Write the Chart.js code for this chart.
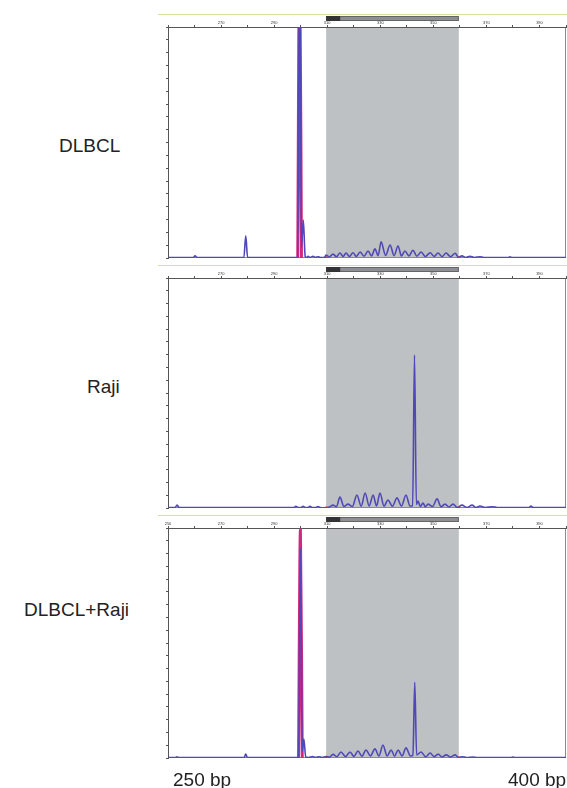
<!DOCTYPE html>
<html>
<head>
<meta charset="utf-8">
<script src="https://cdn.jsdelivr.net/npm/chart.js@4.4.1/dist/chart.umd.min.js"></script>
<style>
  body { margin: 0; background: #fff; width: 567px; height: 788px; position: relative; overflow: hidden;
         font-family: "Liberation Sans", Arial, sans-serif; }
  canvas { position: absolute; left: 150px; }
  .lbl { position: absolute; font-size: 19px; line-height: 1; color: #222; white-space: nowrap; }
</style>
</head>
<body>
<canvas id="p1" width="420" height="262" style="top:0px"></canvas>
<canvas id="p2" width="420" height="252" style="top:260px"></canvas>
<canvas id="p3" width="420" height="252" style="top:510px"></canvas>

<div class="lbl" style="left:59px; top:136px">DLBCL</div>
<div class="lbl" style="left:87px; top:377px">Raji</div>
<div class="lbl" style="left:24px; top:600px">DLBCL+Raji</div>
<div class="lbl" style="left:173px; top:770px">250 bp</div>
<div class="lbl" style="left:508px; top:770px">400 bp</div>

<script>
// fragment size (bp) on x, fluorescence signal on y
const bpMin = 250, bpMax = 400;
const regionStart = 309.6, regionEnd = 359.6;   // shaded analysis window
const yMax = 8870;

const xTickLabels = [270, 290, 310, 330, 350, 370, 390];
const yTickLabels = [1000, 2000, 3000, 4000, 5000, 6000, 7000, 8000];

// DLBCL
const dlbclX = [250, 259.5, 260.2, 261.0, 278.6, 279.3, 280.0, 298.9, 299.6, 300.3, 301.0, 301.7, 302.3, 302.8, 303.4,
  304.7, 305.5, 306.5, 307.5, 309.0, 309.6, 310.8, 312.2, 313.5, 314.8, 316.0, 317.1, 318.4, 319.7, 321.0, 322.4, 323.9,
  325.4, 326.7, 328.0, 329.2, 330.3, 332.0, 333.7, 335.2, 336.7, 338.0, 339.3, 340.8, 342.3, 343.8, 345.4, 347.0, 348.8,
  350.3, 351.8, 353.3, 354.8, 356.5, 358.2, 359.5, 360.8, 362.2, 363.8, 365.5, 367.6, 369.0, 378.2, 378.9, 379.6, 400];
const dlbclY = [20, 20, 80, 20, 20, 850, 20, 30, 12000, 400, 1460, 60, 20, 70, 20,
  70, 20, 50, 20, 30, 110, 40, 150, 50, 190, 60, 190, 60, 200, 60, 230, 70,
  270, 80, 350, 90, 620, 100, 500, 90, 460, 80, 270, 80, 300, 70, 230, 60, 200,
  60, 190, 50, 190, 50, 180, 30, 80, 20, 70, 20, 50, 20, 20, 50, 20, 20];
const dlbclRefX = [298.9, 299.6, 300.3];
const dlbclRefY = [0, 12000, 0];

// Raji
const rajiX = [250, 252.7, 253.4, 254.2, 297.5, 298.2, 299.0, 300.2, 300.9, 301.7, 302.8, 303.5, 304.3, 305.8, 306.5,
  307.3, 309.5, 310.8, 312.2, 313.5, 314.8, 316.3, 317.8, 319.5, 321.2, 322.8, 324.3, 325.8, 327.3, 328.6, 329.9, 331.4,
  332.9, 334.6, 336.3, 338.0, 339.7, 341.2, 342.2, 342.9, 343.6, 344.2, 345.1, 346.1, 347.0, 348.0, 349.7, 351.4, 352.9,
  354.4, 355.9, 357.4, 359.0, 360.8, 362.7, 364.6, 366.1, 367.6, 369.5, 372.5, 374.0, 386.0, 386.8, 387.6, 400];
const rajiY = [20, 20, 115, 20, 20, 70, 20, 20, 70, 20, 20, 70, 20, 20, 60,
  20, 10, 40, 110, 50, 420, 60, 150, 60, 500, 70, 580, 80, 500, 80, 580, 70,
  310, 70, 390, 80, 500, 80, 90, 5900, 140, 270, 60, 190, 50, 150, 60, 350, 50,
  150, 40, 150, 20, 110, 20, 110, 20, 80, 20, 50, 20, 20, 80, 20, 20];

// DLBCL + Raji
const mixX = [250, 252.8, 253.4, 254.0, 278.7, 279.3, 279.9, 299.2, 299.9, 300.6, 301.2, 301.9, 303.0, 304.5, 305.5,
  307.0, 308.0, 309.6, 310.8, 312.2, 313.6, 315.2, 316.9, 318.6, 320.1, 321.6, 323.1, 324.6, 326.3, 328.0, 329.5, 331.0,
  332.6, 334.1, 335.4, 336.7, 338.2, 339.7, 341.4, 342.3, 343.0, 343.7, 345.4, 347.1, 348.8, 350.3, 351.8, 353.3, 354.8,
  356.5, 358.2, 359.5, 361.0, 362.5, 365.0, 366.5, 379.3, 380.0, 380.7, 400];
const mixY = [20, 20, 50, 20, 20, 150, 20, 30, 8100, 250, 730, 40, 20, 60, 20,
  50, 20, 60, 30, 140, 50, 230, 60, 230, 60, 270, 70, 310, 80, 350, 80, 500,
  80, 310, 70, 310, 80, 390, 80, 100, 2920, 120, 230, 50, 190, 50, 150, 40, 120,
  40, 120, 20, 50, 20, 40, 20, 20, 40, 20, 20];
const mixRefX = [299.2, 299.9, 300.6];
const mixRefY = [0, 8800, 0];

function toPoints(xs, ys) {
  return xs.map((x, i) => ({x: x, y: ys[i]}));
}

// shaded window, label bar, header line and the right/bottom frame
const decor = {
  id: 'decor',
  beforeDraw(chart) {
    const {ctx, chartArea: a, scales: {x}} = chart;
    const x0 = x.getPixelForValue(regionStart), x1 = x.getPixelForValue(regionEnd);
    ctx.save();
    ctx.fillStyle = '#bdc1c4';
    ctx.fillRect(x0, a.top + 0.5, x1 - x0, a.bottom - a.top - 0.5);

    ctx.strokeStyle = '#d3e19a';
    ctx.lineWidth = 1;
    ctx.beginPath();
    ctx.moveTo(8, a.top - 12.5);
    ctx.lineTo(chart.width, a.top - 12.5);
    ctx.stroke();

    ctx.fillStyle = '#8d8f93';
    ctx.fillRect(x0, a.top - 11, x1 - x0, 5);
    ctx.strokeStyle = '#666';
    ctx.strokeRect(x0 + 0.5, a.top - 10.5, x1 - x0 - 1, 4);
    ctx.fillStyle = '#333';
    ctx.fillRect(x0, a.top - 11, x.getPixelForValue(regionStart + 5.3) - x0, 5);

    ctx.strokeStyle = '#8a8a8a';
    ctx.beginPath();
    ctx.moveTo(a.right - 0.5, a.top);
    ctx.lineTo(a.right - 0.5, a.bottom);
    ctx.moveTo(a.left, a.bottom - 0.5);
    ctx.lineTo(a.right, a.bottom - 0.5);
    ctx.stroke();
    ctx.restore();
  }
};

function makePanel(id, xs, ys, refX, refY, axisH, showFirst) {
  const datasets = [
    {data: [{x: regionStart, y: 0}, {x: regionEnd, y: 0}], showLine: false, pointRadius: 1.4,
     pointBackgroundColor: '#e0202a', pointBorderWidth: 0, order: -1},
    {data: toPoints(xs, ys), borderColor: '#5048b8', borderWidth: 1.6, pointRadius: 0,
     cubicInterpolationMode: 'monotone', order: 0}
  ];
  if (refX) {
    datasets.push({data: toPoints(refX, refY), borderColor: '#d3287f', borderWidth: 3, pointRadius: 0,
                   cubicInterpolationMode: 'monotone', order: 1});
  }
  return new Chart(document.getElementById(id), {
    type: 'line',
    data: {datasets: datasets},
    options: {
      responsive: false,
      animation: false,
      events: [],
      layout: {padding: {left: 0, right: 1, top: 0, bottom: 3}},
      plugins: {legend: {display: false}, tooltip: {enabled: false}},
      scales: {
        x: {
          type: 'linear', position: 'top', min: bpMin, max: bpMax,
          ticks: {
            stepSize: 10, autoSkip: false, maxRotation: 0, padding: 0, color: '#333', font: {size: 4},
            callback: v => (xTickLabels.includes(v) || (showFirst && v === bpMin)) ? String(v) : ''
          },
          grid: {drawOnChartArea: false, tickLength: 2, color: '#555'},
          border: {color: '#555'},
          afterFit: s => { s.height = axisH; }
        },
        y: {
          min: 0, max: yMax,
          ticks: {
            stepSize: 500, padding: 1, color: '#222', font: {size: 5},
            callback: v => yTickLabels.includes(v) ? String(v) : ''
          },
          grid: {drawOnChartArea: false, tickLength: 2, color: '#555'},
          border: {color: '#555'},
          afterFit: s => { s.width = 18; }
        }
      }
    },
    plugins: [decor]
  });
}

makePanel('p1', dlbclX, dlbclY, dlbclRefX, dlbclRefY, 27, false);
makePanel('p2', rajiX, rajiY, null, null, 18, false);
makePanel('p3', mixX, mixY, mixRefX, mixRefY, 18, true);
</script>
</body>
</html>
